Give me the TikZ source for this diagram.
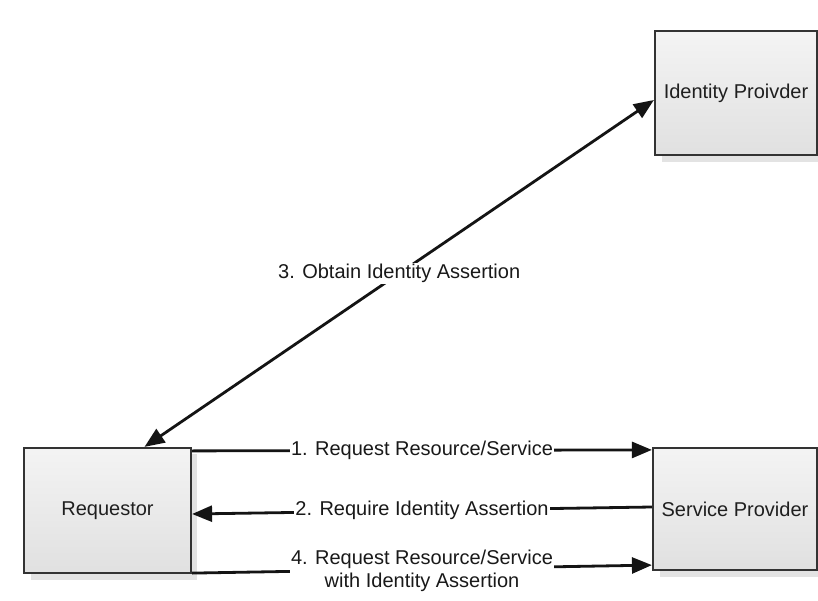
\documentclass[tikz,border=0pt]{standalone}
\usepackage{fontspec}
\setmainfont{Liberation Sans}
\usetikzlibrary{arrows.meta,calc}
\begin{document}
\begin{tikzpicture}[x=1pt,y=-1pt,
  font=\fontsize{20}{23}\selectfont,
  entity/.style={draw=black!80,line width=2.2pt,rectangle,
    top color=gray!9,bottom color=gray!24,text=black!88,
    minimum width=#1,inner sep=0pt},
  shade/.style={fill=gray!22,draw=none},
  flow/.style={line width=2.8pt,draw=black!92,
    -{Triangle[length=20pt,width=16pt]}},
  twoway/.style={line width=2.8pt,draw=black!92,
    {Triangle[length=20pt,width=16pt]}-{Triangle[length=20pt,width=16pt]}},
  msg/.style={fill=white,inner sep=1.5pt,text=black!90,align=center}]
\useasboundingbox (0,0) rectangle (818,601);
\fill[white] (0,0) rectangle (818,601);

% soft drop shadows under the boxes
\fill[shade] (31,454) rectangle (197,580);
\fill[shade] (660,454) rectangle (818,577);
\fill[shade] (662,37) rectangle (818,162);

% boxes
\node[entity=167pt,minimum height=125pt] (req) at (107.5,510.5) {Requestor};
\node[entity=164pt,minimum height=122pt] (sp)  at (735,509) {Service Provider};
\node[entity=162pt,minimum height=124pt] (idp) at (736,93) {Identity Proivder};

% messages
\draw[flow] ([yshift=-4pt]req.north east) -- ([yshift=-3pt]sp.north west)
  node[msg,midway] (m1) {1. Request Resource/Service};
\draw[flow] ([yshift=2pt]sp.west) -- ([yshift=-3.5pt]req.east)
  node[msg,midway] (m2) {2. Require Identity Assertion};
\draw[flow] ([yshift=1pt]req.south east) -- ([yshift=6pt]sp.south west)
  node[msg,midway,yshift=-2pt] (m4) {4. Request Resource/Service\\with Identity Assertion};
\draw[twoway] ([xshift=37pt]req.north) -- ([yshift=-7pt]idp.west)
  node[msg,midway] (m3) {3. Obtain Identity Assertion};
\end{tikzpicture}
\end{document}
